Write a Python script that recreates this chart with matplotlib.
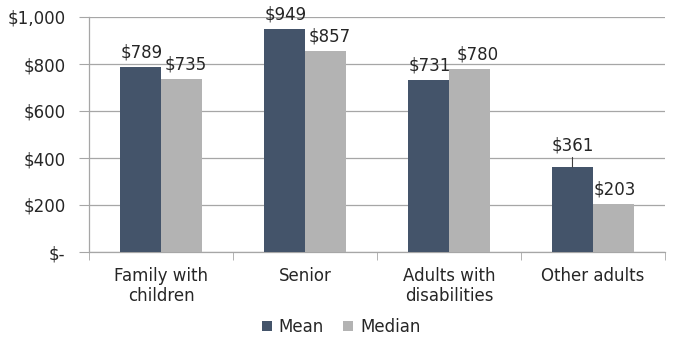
import numpy as np
import matplotlib.pyplot as plt

categories = ["Family with\nchildren", "Senior", "Adults with\ndisabilities", "Other adults"]
mean_vals = [789, 949, 731, 361]
median_vals = [735, 857, 780, 203]
yticks = [0, 200, 400, 600, 800, 1000]
ytick_labels = ["$-", "$200", "$400", "$600", "$800", "$1,000"]

mean_color = "#44546A"
median_color = "#B3B3B3"
grid_color = "#A6A6A6"
text_color = "#262626"

plt.rcParams["font.family"] = ["DejaVu Sans"]
plt.rcParams["font.size"] = 12

fig = plt.figure(figsize=(6.99, 3.52), dpi=100)
ax = fig.add_axes([89 / 699, 1 - 252 / 352, (665 - 89) / 699, (252 - 17) / 352])

x = np.arange(len(categories))
w = 0.285
b1 = ax.bar(x - w / 2, mean_vals, w, color=mean_color, label="Mean", zorder=3)
b2 = ax.bar(x + w / 2, median_vals, w, color=median_color, label="Median", zorder=3)

ax.set_xlim(-0.5, len(categories) - 0.5)
ax.set_ylim(0, 1000)
ax.set_yticks(yticks)
ax.set_yticklabels(ytick_labels, color=text_color)
ax.yaxis.grid(True, color=grid_color, linewidth=0.9, zorder=0)
ax.tick_params(axis="y", length=7, color=grid_color, pad=10)

# category labels centred, boundary ticks between groups
ax.set_xticks(x)
ax.set_xticklabels(categories, color=text_color, linespacing=1.15)
ax.tick_params(axis="x", length=0, pad=11)
ax.set_xticks(np.arange(-0.5, len(categories)), minor=True)
ax.tick_params(axis="x", which="minor", length=6, color=grid_color)

for s in ["top", "right"]:
    ax.spines[s].set_visible(False)
for s in ["left", "bottom"]:
    ax.spines[s].set_color(grid_color)
    ax.spines[s].set_linewidth(0.9)

# value labels above bars (small nudges like hand-placed labels)
nudge = {(0, 0): 1, (0, 1): 3, (1, 1): 3, (2, 1): 6}
for j, bars in enumerate([b1, b2]):
    for i, rect in enumerate(bars):
        v = rect.get_height()
        cx = rect.get_x() + rect.get_width() / 2
        if (i, j) == (3, 0):
            # label pulled up with a leader line
            ax.annotate(f"${v:.0f}", xy=(cx, v), xytext=(0, 9), textcoords="offset points",
                        ha="center", va="bottom", color=text_color,
                        arrowprops=dict(arrowstyle="-", color="#404040", lw=0.8,
                                        shrinkA=0, shrinkB=0))
        else:
            ax.annotate(f"${v:.0f}", xy=(cx, v), xytext=(nudge.get((i, j), 1), 4),
                        textcoords="offset points", ha="center", va="bottom",
                        color=text_color)

fig.legend(loc="center", bbox_to_anchor=(341 / 699, 1 - 327 / 352), ncol=2,
           frameon=False, handlelength=0.6, handleheight=0.6, handletextpad=0.4,
           columnspacing=1.2, fontsize=12, labelcolor=text_color)

fig.savefig("out.png", dpi=100)
